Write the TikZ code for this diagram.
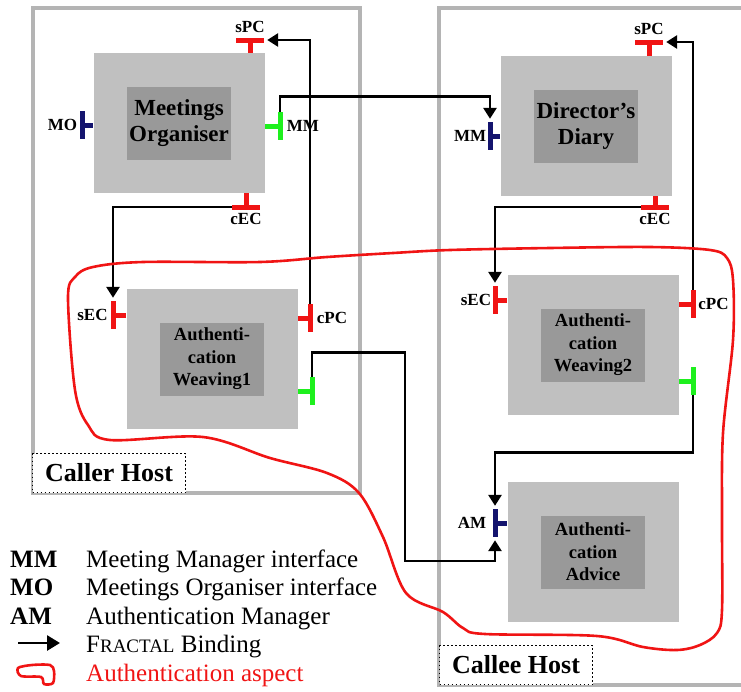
\documentclass[tikz,border=0pt]{standalone}
\usepackage{fontspec}
\setmainfont{Liberation Serif}
\usetikzlibrary{arrows.meta,calc,positioning}
\definecolor{hostgray}{HTML}{B4B4B4}
\definecolor{compgray}{HTML}{C0C0C0}
\definecolor{coregray}{HTML}{999999}
\definecolor{portred}{HTML}{F01414}
\definecolor{portgreen}{HTML}{1EF01E}
\definecolor{portnavy}{HTML}{14146E}

\tikzset{
	host/.style={draw=hostgray, line width=3.3pt},
	hostlbl/.style={draw=black, dash pattern=on 1.6pt off 2.4pt, line width=1.8pt, fill=white, inner sep=0pt,
		minimum width=153pt, minimum height=39pt, font=\bfseries\fontsize{26}{28}\selectfont},
	comp/.style={fill=compgray, minimum width=171pt, minimum height=140pt, inner sep=0pt},
	core/.style={fill=coregray, minimum width=104pt, minimum height=73pt, inner sep=0pt,
		align=center, font=\bfseries\fontsize{23}{26}\selectfont},
	smallcore/.style={core, font=\bfseries\fontsize{18.5}{22.5}\selectfont},
	hbar/.style={fill=#1, minimum width=28pt, minimum height=5pt, inner sep=0pt},
	vbar/.style={fill=#1, minimum width=5pt, minimum height=28pt, inner sep=0pt},
	stem/.style={draw=#1, line width=5pt},
	portlbl/.style={font=\bfseries\fontsize{17}{18}\selectfont, inner sep=1pt},
	bind/.style={line width=2.8pt, -{Triangle[length=11pt,width=13pt]}, shorten >=3pt},
	aspect/.style={draw=portred, line width=2.6pt},
	legkey/.style={anchor=base west, inner sep=0pt, font=\bfseries\fontsize{25}{28}\selectfont},
	legtxt/.style={anchor=base west, inner sep=0pt, font=\fontsize{25}{28}\selectfont},
}

\begin{document}
\begin{tikzpicture}[x=1pt, y=-1pt, >=Latex]
	\useasboundingbox (0,0) rectangle (741,691);
	%\draw[step=50,gray,very thin] (0,0) grid (741,691);

	% hosts
	\draw[host] (33,8) rectangle (360,493);
	\draw[host] (439,8) rectangle (746,685);
	\node[hostlbl] (callerlbl) at (109,473) {Caller Host};
	\node[hostlbl] (calleelbl) at (516,665) {Callee Host};

	% components
	\node[comp] (mo) at (179,123) {};
	\node[core] (mocore) at (mo) {Meetings\\Organiser};
	\node[comp] (dd) at (586,126) {};
	\node[core] (ddcore) at (dd) {Director’s\\Diary};
	\node[comp] (aw1) at (212,359) {};
	\node[smallcore] (aw1core) at (aw1) {Authenti-\\cation\\Weaving1};
	\node[comp] (aw2) at (593,345) {};
	\node[smallcore] (aw2core) at (aw2) {Authenti-\\cation\\Weaving2};
	\node[comp] (aa) at (593,552) {};
	\node[smallcore] (aacore) at (aa) {Authenti-\\cation\\Advice};

	% ports of Meetings Organiser
	\node[hbar=portred] (mospc) at (250,40) {};
	\draw[stem=portred] (mospc.center) -- (mospc |- mo.north);
	\node[portlbl, above=3pt of mospc] {sPC};
	\node[vbar=portnavy] (momo) at (82,125) {};
	\draw[stem=portnavy] (momo.center) -- (momo -| mo.west);
	\node[portlbl, left=1pt of momo] {MO};
	\node[vbar=portgreen] (momm) at (280,126) {};
	\draw[stem=portgreen] (momm.center) -- (momm -| mo.east);
	\node[portlbl, right=3pt of momm] {MM};
	\node[hbar=portred] (mocec) at (246,207) {};
	\draw[stem=portred] (mocec.center) -- (mocec |- mo.south);
	\node[portlbl, below=2pt of mocec] {cEC};

	% ports of Director's Diary
	\node[hbar=portred] (ddspc) at (649,42) {};
	\draw[stem=portred] (ddspc.center) -- (ddspc |- dd.north);
	\node[portlbl, above=3pt of ddspc] {sPC};
	\node[vbar=portnavy] (ddmm) at (490,136) {};
	\draw[stem=portnavy] (ddmm.center) -- (ddmm -| dd.west);
	\node[portlbl, left=0pt of ddmm] {MM};
	\node[hbar=portred] (ddcec) at (655,207) {};
	\draw[stem=portred] (ddcec.center) -- (ddcec |- dd.south);
	\node[portlbl, below=2pt of ddcec] {cEC};

	% ports of Authentication Weaving1
	\node[vbar=portred] (aw1sec) at (113,315) {};
	\draw[stem=portred] (aw1sec.center) -- (aw1sec -| aw1.west);
	\node[portlbl, left=1.5pt of aw1sec] {sEC};
	\node[vbar=portred] (aw1cpc) at (310,318) {};
	\draw[stem=portred] (aw1cpc.center) -- (aw1cpc -| aw1.east);
	\node[portlbl, right=3pt of aw1cpc] {cPC};
	\node[vbar=portgreen] (aw1out) at (312,391) {};
	\draw[stem=portgreen] (aw1out.center) -- (aw1out -| aw1.east);

	% ports of Authentication Weaving2
	\node[vbar=portred] (aw2sec) at (495,300) {};
	\draw[stem=portred] (aw2sec.center) -- (aw2sec -| aw2.west);
	\node[portlbl, left=0pt of aw2sec] {sEC};
	\node[vbar=portred] (aw2cpc) at (693,304) {};
	\draw[stem=portred] (aw2cpc.center) -- (aw2cpc -| aw2.east);
	\node[portlbl, right=1.5pt of aw2cpc] {cPC};
	\node[vbar=portgreen] (aw2out) at (693,381) {};
	\draw[stem=portgreen] (aw2out.center) -- (aw2out -| aw2.east);

	% port of Authentication Advice
	\node[vbar=portnavy] (aaam) at (495,523) {};
	\draw[stem=portnavy] (aaam.center) -- (aaam -| aa.west);
	\node[portlbl, left=5pt of aaam] {AM};

	% bindings
	\coordinate (advturn) at (405,561);
	\draw[bind] (aw1cpc.north) |- (mospc.east);
	\draw[bind] (momm.north) -- ++(0,-15) -| (ddmm.north);
	\draw[bind] (mocec.west) -| (aw1sec.north);
	\draw[bind] (ddcec.west) -| (aw2sec.north);
	\draw[bind] (aw2cpc.north) |- (ddspc.east);
	\draw[bind] (aw2out.south) -- ++(0,57) -| (aaam.north);
	\draw[bind] (aw1out.north) -- ++(0,-24) -| (advturn) -| (aaam.south);

	% authentication aspect
	\draw[aspect] plot[smooth cycle, tension=0.55] coordinates {
		(68,298) (75,277) (93,267) (143,262) (260,262) (327,257) (393,253) (450,250)
		(550,248) (650,247) (710,250) (727,258) (733,280) (733,340) (723,433) (722,520)
		(722,610) (717,633) (700,645) (677,650) (643,647) (597,636) (485,634) (463,628)
		(443,612) (406,593) (383,537) (359,493) (327,473) (270,458) (203,437) (110,440)
		(88,425) (75,390)};

	% legend
	\node[legkey] (kmm) at (10,567) {MM};
	\node[legtxt] (tmm) at (86,567) {Meeting Manager interface};
	\node[legkey] (kmo) at (10,595.5) {MO};
	\node[legtxt] (tmo) at (86,595.5) {Meetings Organiser interface};
	\node[legkey] (kam) at (10,624) {AM};
	\node[legtxt] (tam) at (86,624) {Authentication Manager};
	\coordinate (legfrom) at (18,643);
	\coordinate (legto) at (60,643);
	\draw[line width=2.8pt, -{Triangle[length=13pt,width=15pt]}] (legfrom) -- (legto);
	\node[legtxt] (tbind) at (86,652.5) {F{\fontsize{19}{20}\selectfont RACTAL} Binding};
	\draw[aspect] plot[smooth cycle, tension=0.5] coordinates {
		(18,668) (32,665) (50,665) (54,671) (53,683) (44,684) (41,677) (21,676)};
	\node[legtxt, text=portred] (tasp) at (86,681) {Authentication aspect};
\end{tikzpicture}
\end{document}
